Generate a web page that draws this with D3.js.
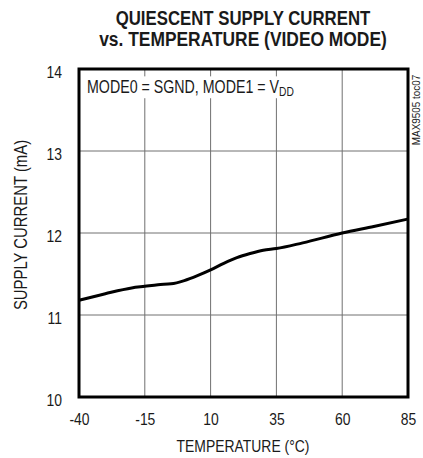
<!DOCTYPE html>
<html lang="en">
<head>
<meta charset="utf-8">
<title>Quiescent supply current</title>
<script src="https://d3js.org/d3.v7.min.js"></script>
<style>
  body { margin: 0; background: #fff; }
  text { font-family: "Liberation Sans", Arial, sans-serif; fill: #1a1a1a; }
</style>
</head>
<body>
<div id="chart"></div>
<script>
// data
const temps   = [-40, -30, -20, -15, -10, -5, 0, 5, 10, 15, 20, 25, 30, 35, 45, 60, 72, 85];
const current = [11.18, 11.26, 11.33, 11.35, 11.37, 11.38, 11.42, 11.48, 11.55, 11.63, 11.70, 11.75, 11.79, 11.81, 11.88, 12.0, 12.08, 12.17];
const xTicks = [-40, -15, 10, 35, 60, 85];
const yTicks = [10, 11, 12, 13, 14];

const width = 423, height = 458;
const mLeft = 79, mRight = 408, mTop = 69, mBottom = 397;
const k = 0.82; // horizontal squeeze, the original uses a condensed face

const svg = d3.select("#chart").append("svg")
  .attr("width", width).attr("height", height);

const x = d3.scaleLinear().domain([-40, 85]).range([mLeft, mRight]);
const y = d3.scaleLinear().domain([10, 14]).range([mBottom, mTop]);

function label(px, py, txt, size, opts = {}) {
  const t = svg.append("text")
    .attr("transform", `translate(${px},${py})${opts.rot ? " rotate(" + opts.rot + ")" : ""} scale(${opts.k || k},1)`)
    .attr("text-anchor", opts.anchor || "middle")
    .attr("font-size", size)
    .text(txt);
  if (opts.bold) t.attr("font-weight", "bold");
  return t;
}

// title
label(243, 25, "QUIESCENT SUPPLY CURRENT", 20, {bold: true, k: 0.84});
label(243, 46, "vs. TEMPERATURE (VIDEO MODE)", 20, {bold: true, k: 0.87});

// grid
svg.append("g").selectAll("line").data(xTicks.slice(1, -1)).join("line")
  .attr("x1", d => x(d)).attr("x2", d => x(d))
  .attr("y1", mTop).attr("y2", mBottom)
  .attr("stroke", "#707070").attr("stroke-width", 1);
svg.append("g").selectAll("line").data(yTicks.slice(1, -1)).join("line")
  .attr("y1", d => y(d)).attr("y2", d => y(d))
  .attr("x1", mLeft).attr("x2", mRight)
  .attr("stroke", "#707070").attr("stroke-width", 1);

// tick labels
const xAxis = d3.axisBottom(x).tickValues(xTicks).tickSize(0).tickPadding(16)
  .tickFormat(d => String(d));
svg.append("g").attr("transform", `translate(0,${mBottom})`).call(xAxis)
  .call(g => g.select(".domain").remove())
  .selectAll("text").attr("font-size", 17).attr("fill", "#1a1a1a")
  .attr("transform", `scale(${k},1)`);

const yAxis = d3.axisLeft(y).tickValues(yTicks).tickSize(0)
  .tickFormat(d => String(d));
svg.append("g").attr("transform", `translate(${mLeft},0)`).call(yAxis)
  .call(g => g.select(".domain").remove())
  .selectAll("text").attr("font-size", 17).attr("fill", "#1a1a1a")
  .attr("x", -17 / k).attr("dy", "0.5em")
  .attr("transform", `scale(${k},1)`);

// axis titles
label(243, 452, "TEMPERATURE (°C)", 17);
label(27, 225, "SUPPLY CURRENT (mA)", 17.5, {rot: -90, k: 0.85});

// annotation with white background
const nk = 0.79;
const noteBg = svg.append("rect").attr("fill", "#fff");
const note = svg.append("text")
  .attr("transform", `translate(87,93) scale(${nk},1)`)
  .attr("font-size", 18);
note.append("tspan").text("MODE0 = SGND, MODE1 = V");
note.append("tspan").attr("font-size", 13).attr("dy", 3).text("DD");
const bb = note.node().getBBox();
noteBg.attr("x", 87 + (bb.x - 2) * nk).attr("y", 93 + bb.y)
  .attr("width", (bb.width + 4) * nk).attr("height", bb.height);

label(420, 110, "MAX9505 toc07", 11, {rot: -90, k: 0.9});

// curve
const line = d3.line().x(d => x(d[0])).y(d => y(d[1])).curve(d3.curveMonotoneX);
svg.append("path").datum(temps.map((t, i) => [t, current[i]]))
  .attr("d", line).attr("fill", "none").attr("stroke", "#000").attr("stroke-width", 3);

// frame
svg.append("rect").attr("x", mLeft).attr("y", mTop)
  .attr("width", mRight - mLeft).attr("height", mBottom - mTop)
  .attr("fill", "none").attr("stroke", "#000").attr("stroke-width", 3);
</script>
</body>
</html>
